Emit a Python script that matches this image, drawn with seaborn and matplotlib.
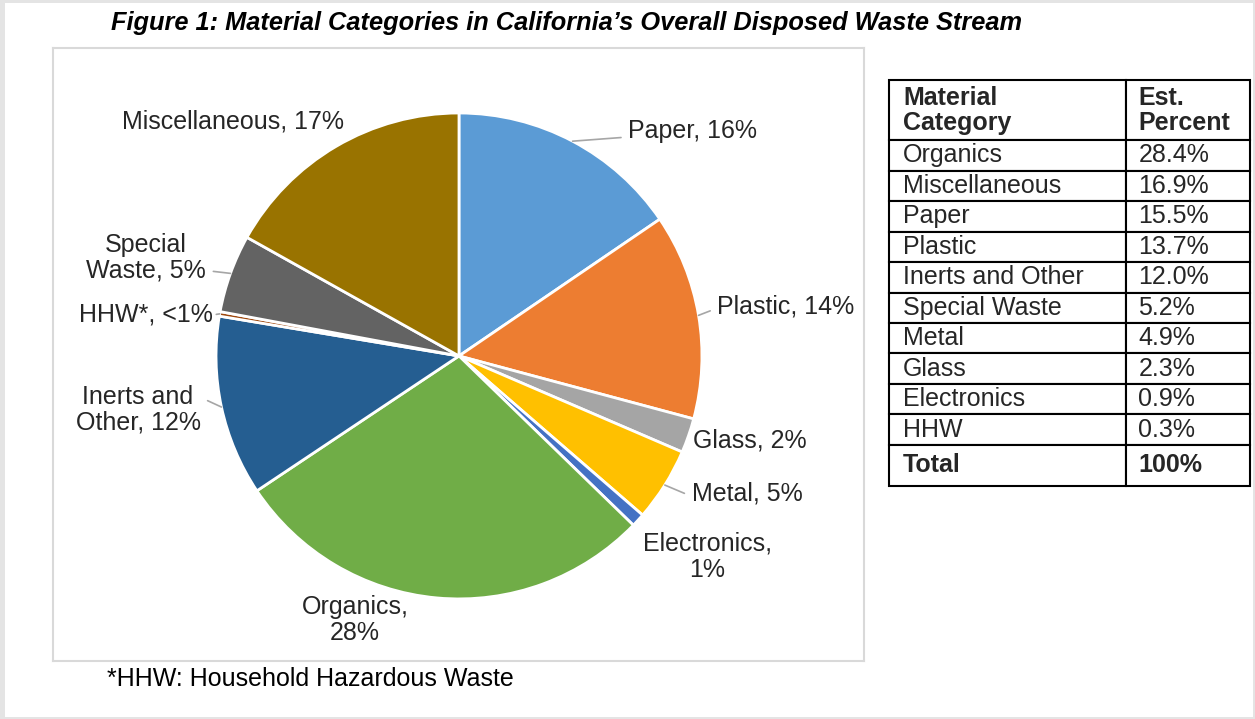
import matplotlib.pyplot as plt
import numpy as np
import seaborn as sns
from matplotlib.patches import Rectangle

# pie data, clockwise from 12 o'clock
categories = ["Paper", "Plastic", "Glass", "Metal", "Electronics", "Organics",
              "Inerts and Other", "HHW", "Special Waste", "Miscellaneous"]
percents = [15.5, 13.7, 2.3, 4.9, 0.9, 28.4, 12.0, 0.3, 5.2, 16.9]
pie_labels = ["Paper, 16%", "Plastic, 14%", "Glass, 2%", "Metal, 5%", "Electronics,\n1%",
              "Organics,\n28%", "Inerts and\nOther, 12%", "HHW*, <1%", "Special\nWaste, 5%",
              "Miscellaneous, 17%"]
colors = ["#5B9BD5", "#ED7D31", "#A5A5A5", "#FFC000", "#4472C4",
          "#70AD47", "#255E91", "#9E480E", "#636363", "#997300"]

# label centres in pie-radius units, and where the leader line leaves the label
label_pos = [(0.963, 0.926), (1.346, 0.202), (1.198, -0.346), (1.185, -0.568), (1.021, -0.827),
             (-0.428, -1.086), (-1.321, -0.222), (-1.288, 0.169), (-1.288, 0.403), (-0.930, 0.967)]
leader_rel = [(0, 0.25), (0, 0.45), None, (0, 0.4), None,
              None, (1, 0.75), (1, 0.5), (1, 0.25), None]

sns.set_theme(style="white")
plt.rcParams['font.family'] = ['Liberation Sans', 'DejaVu Sans']

fig = plt.figure(figsize=(12.55, 7.19), dpi=100)
fig.patch.set_facecolor("#e4e4e4")
fig.add_artist(Rectangle((5 / 1255, 2 / 719), 1248 / 1255, 714 / 719,
                         transform=fig.transFigure, facecolor="white", edgecolor="none", zorder=0))

fig.text(567 / 1255, 1 - 23 / 719,
         "Figure 1: Material Categories in California\u2019s Overall Disposed Waste Stream",
         ha="center", va="center", fontsize=18.3, fontweight="bold", fontstyle="italic", color="black")

# pie chart
ax = fig.add_axes([53 / 1255, 1 - 661 / 719, 811 / 1255, 613 / 719])
wedges, _ = ax.pie(percents, colors=sns.color_palette(colors), startangle=90, counterclock=False,
                   radius=1, wedgeprops=dict(edgecolor="white", linewidth=2))
ax.set_xlim(-1.671, 1.667)
ax.set_ylim(-1.255, 1.267)
ax.set_frame_on(True)
ax.set_xticks([])
ax.set_yticks([])
for s in ax.spines.values():
    s.set_color("#d9d9d9")
    s.set_linewidth(1.5)

for w, lab, pos, rel in zip(wedges, pie_labels, label_pos, leader_rel):
    mid = np.deg2rad((w.theta1 + w.theta2) / 2)
    edge = (np.cos(mid), np.sin(mid))
    if rel is None:
        ax.text(pos[0], pos[1], lab, ha="center", va="center", fontsize=18,
                color="#262626", linespacing=1.1)
    else:
        ax.annotate(lab, xy=edge, xytext=pos, ha="center", va="center", fontsize=18,
                    color="#262626", linespacing=1.1,
                    arrowprops=dict(arrowstyle="-", color="#a6a6a6", lw=1.2,
                                    relpos=rel, shrinkA=3, shrinkB=0))

fig.text(107 / 1255, 1 - 679 / 719, "*HHW: Household Hazardous Waste",
         ha="left", va="center", fontsize=18, color="black")

# table, sorted by share
order = sorted(range(len(categories)), key=lambda i: -percents[i])
cell_text = [["Material\nCategory", "Est.\nPercent"]]
cell_text += [[categories[i], f"{percents[i]:.1f}%"] for i in order]
cell_text += [["Total", "100%"]]

axt = fig.add_axes([889 / 1255, 1 - 486 / 719, 361 / 1255, 406 / 719])
axt.axis("off")
tbl = axt.table(cellText=cell_text, colWidths=[237, 124], cellLoc="left", bbox=[0, 0, 1, 1])
tbl.auto_set_font_size(False)
nrows = len(cell_text)
for (r, c), cell in tbl.get_celld().items():
    cell.set_edgecolor("black")
    cell.set_linewidth(1.5)
    cell.PAD = 0.06 if c == 0 else 0.1
    if r == 0:
        cell.set_height(60)
    elif r == nrows - 1:
        cell.set_height(41)
    else:
        cell.set_height(30.4)
    txt = cell.get_text()
    txt.set_fontsize(18)
    txt.set_linespacing(1.05)
    if r == 0 or r == nrows - 1:
        txt.set_fontweight("bold")

fig.savefig("out.png", dpi=100)
